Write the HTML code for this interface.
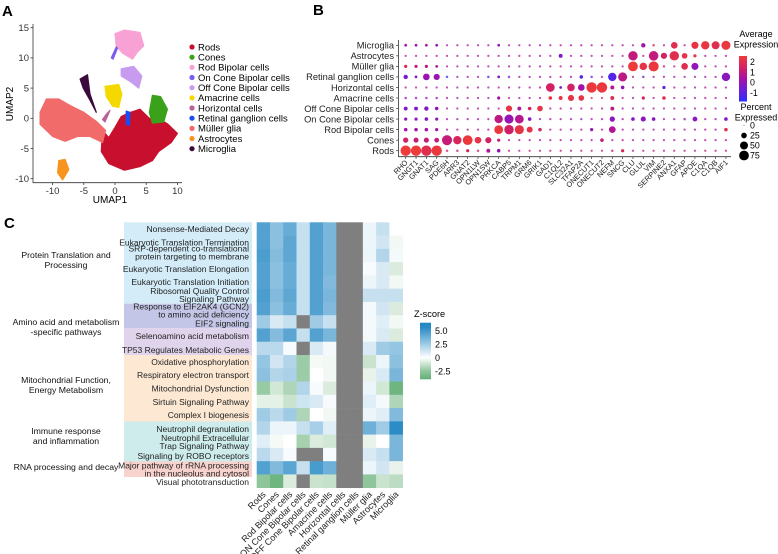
<!DOCTYPE html>
<html><head><meta charset="utf-8"><style>
html,body{margin:0;padding:0;background:#fff;}
svg{display:block;font-family:"Liberation Sans",Arial,sans-serif;}
</style></head><body>
<svg id="fig" width="778" height="554" viewBox="0 0 778 554" xmlns="http://www.w3.org/2000/svg">
<text x="2" y="16" font-size="15" font-weight="bold">A</text>
<text x="313" y="15" font-size="15" font-weight="bold">B</text>
<text x="4" y="228" font-size="15" font-weight="bold">C</text>
<g id="umap"></g>
<g id="dot"></g>
<g id="heat"></g>
</svg>
<script>
const NS='http://www.w3.org/2000/svg';
function mk(parent,tag,attrs,txt){const e=document.createElementNS(NS,tag);for(const k in attrs)e.setAttribute(k,attrs[k]);if(txt!==undefined)e.textContent=txt;parent.appendChild(e);return e;}
function lerpHex(a,b,t){const pa=[1,3,5].map(i=>parseInt(a.substr(i,2),16)),pb=[1,3,5].map(i=>parseInt(b.substr(i,2),16));return 'rgb('+pa.map((v,i)=>Math.round(v+(pb[i]-v)*t)).join(',')+')';}
function ramp(stops,v){if(v<=stops[0][0])return stops[0][1];for(let i=1;i<stops.length;i++){if(v<=stops[i][0]){const t=(v-stops[i-1][0])/(stops[i][0]-stops[i-1][0]);return lerpHex(stops[i-1][1],stops[i][1],t);}}return stops[stops.length-1][1];}

/* ---------- Panel A: UMAP ---------- */
const umapClusters=['Rods','Cones','Rod Bipolar cells','On Cone Bipolar cells','Off Cone Bipolar cells','Amacrine cells','Horizontal cells','Retinal ganglion cells','Müller glia','Astrocytes','Microglia'];
const umapColors=['#c8102e','#3aa11a','#f7a1d4','#7b5cf0','#c79bf0','#f5d800','#b8609a','#1a4df0','#f26b6b','#f7941d','#3b0a3d'];
const umapShapes=[
 [[-2,-2],[-1,-3.2],[0,-1.5],[1,0.3],[2.5,1],[4,1.5],[5.5,0],[7,0],[8.5,-1],[10,-2.5],[9,-4],[7,-5.5],[6,-7],[4,-8],[1.5,-8.6],[-1,-7.5],[-2.2,-5.5]],
 [[5.5,1],[6,3.8],[7.3,3.6],[8.4,1.5],[7.8,-0.6],[6,-0.8]],
 [[0,14],[1.5,14.6],[4,14.2],[4.6,12],[3.6,11],[2.8,9.8],[1.2,10.8],[0.2,12]],
 [[-0.6,10],[0.2,11.8],[0.4,11.6],[-0.3,9.8]],
 [[1,8.2],[3,8.6],[4.3,7],[3.8,5],[2.6,6],[1,7]],
 [[-1.6,5.3],[0.6,5.6],[1.1,4],[0.6,1.8],[-0.4,2],[-1.4,3.6]],
 [[-1.3,0.8],[-0.8,1.3],[-1.6,-0.6],[-2,-0.2]],
 [[1.8,1.2],[2.4,1],[2.3,-1.2],[1.8,-1]],
 [[-12,1],[-11,3.2],[-9,3.2],[-7,2],[-5,1],[-3,-0.5],[-1.5,-2],[-2,-4],[-4,-3],[-6,-3],[-8,-3.8],[-10,-3],[-12,-1]],
 [[-9,-7],[-8,-6.8],[-7.4,-8.5],[-8.4,-10.2],[-9.2,-9]],
 [[-5.6,6.5],[-4.4,7.2],[-4,4],[-3,1],[-4,3],[-5.1,5]]
];
const umapXTicks=[-10,-5,0,5,10];
const umapYTicks=[15,10,5,0,-5,-10];
(function(){
 const g=document.getElementById('umap');
 const ux=v=>115+6.24*v, uy=v=>118.3-6.04*v;
 umapShapes.forEach((s,i)=>{
  const p=mk(g,'polygon',{points:s.map(q=>ux(q[0]).toFixed(1)+','+uy(q[1]).toFixed(1)).join(' '),fill:umapColors[i],stroke:umapColors[i],'stroke-width':1.2,'stroke-linejoin':'round'});
  
  
 });
 const ax=mk(g,'path',{d:'M33,24V182.7H182',stroke:'#333',fill:'none','stroke-width':0.8});
 
 umapXTicks.forEach(t=>{mk(g,'line',{x1:ux(t),x2:ux(t),y1:182.7,y2:185,stroke:'#333','stroke-width':0.8});
  const e=mk(g,'text',{x:ux(t),y:194,'font-size':9.5,'text-anchor':'middle',fill:'#333'},t);
  });
 umapYTicks.forEach(t=>{mk(g,'line',{x1:30.5,x2:33,y1:uy(t),y2:uy(t),stroke:'#333','stroke-width':0.8});
  const e=mk(g,'text',{x:29,y:uy(t)+3.3,'font-size':9.5,'text-anchor':'end',fill:'#333'},t);
  });
 let e=mk(g,'text',{x:110,y:203,'font-size':10,'text-anchor':'middle'},'UMAP1');
 
 e=mk(g,'text',{x:13,y:104,'font-size':10,'text-anchor':'middle',transform:'rotate(-90 13 104)'},'UMAP2');
 
 umapClusters.forEach((c,i)=>{const y=47+10.17*i;
  const d=mk(g,'circle',{cx:192,cy:y,r:2.6,fill:umapColors[i]});
  
  const t=mk(g,'text',{x:198,y:y+3.3,'font-size':9.5},c);
  });
})();

/* ---------- Panel B: dot plot ---------- */
const dotGenes=['RHO','GNGT1','GNAT1','SAG','PDE6H','ARR3','GNAT2','OPN1LW','OPN1SW','PRKCA','CABP5','TRPM1','GRM6','GRIK1','GAD1','C1QL2','SLC32A1','TFAP2A','ONECUT1','ONECUT2','NEFM','SNCG','CLU','GLUL','VIM','SERPINE2','ANXA1','GFAP','APOE','C1QA','C1QB','AIF1'];
const dotCells=['Rods','Cones','Rod Bipolar cells','On Cone Bipolar cells','Off Cone Bipolar cells','Amacrine cells','Horizontal cells','Retinal ganglion cells','Müller glia','Astrocytes','Microglia'];
const dotPct=[
 [85,85,85,85,5,5,8,5,12,10,4,4,4,4,4,4,4,4,4,4,5,8,4,4,4,4,4,4,4,4,4,4],
 [22,20,20,18,80,55,75,35,30,8,4,4,4,4,4,4,4,4,4,10,4,4,4,4,4,4,4,4,4,4,4,4],
 [10,10,10,8,4,4,4,4,4,60,70,65,28,10,4,4,4,4,8,4,35,4,4,4,4,4,4,4,4,4,4,10],
 [8,8,10,8,4,4,4,4,4,55,65,60,10,4,4,4,4,4,4,4,22,4,10,20,10,4,4,5,18,4,4,10],
 [12,12,15,10,4,4,4,4,4,4,30,12,10,25,4,4,4,4,4,4,12,4,4,4,4,4,4,4,4,4,4,4],
 [5,5,5,5,4,4,4,4,4,8,4,4,4,4,10,12,30,25,4,4,12,4,4,8,4,10,4,4,4,4,4,4],
 [4,4,4,4,4,4,4,4,4,4,4,4,4,4,60,6,45,35,85,85,12,10,4,4,4,8,4,4,4,4,4,4],
 [15,6,35,30,5,4,4,4,5,6,5,4,4,4,4,4,4,10,5,4,55,65,4,5,4,4,4,4,4,4,4,55],
 [8,8,8,6,4,4,4,4,4,4,4,4,4,4,4,4,4,4,4,4,4,4,75,45,80,5,4,35,40,4,4,4],
 [4,4,4,4,4,4,4,4,4,4,4,4,4,4,4,12,4,4,4,4,4,4,70,4,72,30,70,25,8,4,4,4],
 [6,6,6,6,4,4,4,4,4,6,4,4,4,4,4,4,4,4,4,4,4,4,4,15,5,4,35,4,40,55,50,65]
];
const dotExp=[
 [2.3,2.3,1.8,2.2,1.2,1.0,1.5,1.0,0.6,0,0.8,0.8,0.8,0.8,0.8,0.8,0.8,0.8,0.8,0.8,1,1.5,0.8,0.8,0.8,0.8,0.8,0.8,0.8,0.8,0.8,0.8],
 [1.3,1.0,1.0,1.0,1.0,1.5,2.2,2.0,1.3,1,0.5,0.5,0.5,0.5,0.5,0.5,0.5,0.5,0.5,1,0.5,0.5,0.5,0.5,0.5,0.5,0.5,0.5,0.5,0.5,0.5,0.5],
 [0.3,0.3,0.3,0.3,0.5,0.5,0.5,0.5,0.5,2.2,1.2,2.0,2.0,1.5,0.5,0.5,0.5,0.5,0,0.5,0.6,0.5,0.5,0.5,0.5,0.5,0.5,0.5,0.5,0.5,0.5,1.8],
 [0,0,-0.2,0,0.3,0.3,0.3,0.3,0.3,0.8,0.1,0.7,-0.2,0.3,0.3,0.3,0.3,-0.5,0.3,0.3,-0.1,0.3,-0.2,-0.1,-0.2,0.3,0.3,0,-0.1,0.3,0.3,-0.2],
 [-0.2,-0.2,-0.2,0,0.5,0.5,0.5,0.5,0.5,0.5,2.0,0.5,1.5,2.0,0.5,0.5,0.5,0.5,0.5,0.5,0.8,0.5,0.5,0.5,0.5,0.5,0.5,0.5,0.5,0.5,0.5,0.5],
 [0,0,0,0,0.5,0.5,0.5,0.5,0.5,0.3,0.5,0.5,0.5,0.5,2.0,2.0,2.0,2.0,1.5,1.5,1.8,0.5,0.5,1.2,0.5,1.8,0.5,0.5,0.5,0.5,0.5,0.5],
 [0.5,0.5,0.5,0.5,0.5,0.5,0.5,0.5,0.5,0.5,0.5,0.5,0.5,0.5,1.3,-0.5,1.3,0.3,2.2,2.2,0.6,0,0.5,0.5,0.5,-0.9,0.5,0.5,0.5,0.5,0.5,0.5],
 [-0.4,-0.3,0.2,0.2,-1.5,0.3,0.3,0.3,-1.4,-0.2,-0.2,0.3,0.3,0.3,0.3,0.3,0.3,-1.0,-0.6,0.3,-1.0,0.8,0.3,-0.5,0.3,0.3,0.3,0.3,0.3,0.3,0.3,-0.1],
 [1.5,1.0,0.8,0.6,0.5,0.5,0.5,0.5,0.5,0.5,0.5,0.5,0.5,0.5,0.5,0.5,0.5,0.5,0.5,0.5,0.5,0.5,2.3,2.0,2.2,1.2,0.5,1.8,0,0.5,0.5,0.5],
 [0.5,0.5,0.5,0.5,0.5,0.5,0.5,0.5,0.5,0.5,0.5,0.5,0.5,0.5,0.5,-0.3,0.5,0.5,0.5,0.5,0.5,0.5,0.9,0.5,0.9,1.3,1.8,2.0,2.0,0.5,0.5,0.5],
 [0.3,0,0.5,0,0.5,0.5,0.5,0.5,0.5,0,0.5,0.5,0.5,0.5,0.5,0.5,0.5,0.5,0.5,0.5,0.5,0.5,0.5,0.3,1.2,0.5,1.8,0.5,2.0,2.1,1.8,2.2]
];
const dotExpTicks=[2,1,0,-1];
const dotPctTicks=[0,25,50,75];
(function(){
 const g=document.getElementById('dot');
 const stops=[[-1.6,'#2d2dff'],[-0.6,'#6a1fd8'],[0.3,'#a312aa'],[1.2,'#d01f68'],[2.3,'#ee3a3a']];
 const gx=i=>405.7+10.33*i, gy=r=>150.7-10.54*r;
 const rad=p=>Math.max(0.6,5.2*Math.sqrt(p/85));
 dotCells.forEach((c,r)=>{
  const t=mk(g,'text',{x:394,y:gy(r)+3.3,'font-size':9.3,'text-anchor':'end',fill:'#222'},c);
  
  mk(g,'line',{x1:396,x2:398.5,y1:gy(r),y2:gy(r),stroke:'#333','stroke-width':0.7});
  dotGenes.forEach((gn,i)=>{
   const p=dotPct[r][i],v=dotExp[r][i];
   const d=mk(g,'circle',{cx:gx(i),cy:gy(r),r:rad(p),fill:ramp(stops,v),'fill-opacity':p<6?0.75:1});
   
  });
 });
 const ax=mk(g,'path',{d:'M398.5,40V156.7H731',stroke:'#333',fill:'none','stroke-width':0.8});
 
 dotGenes.forEach((gn,i)=>{
  mk(g,'line',{x1:gx(i),x2:gx(i),y1:156.7,y2:159,stroke:'#333','stroke-width':0.7});
  const t=mk(g,'text',{x:gx(i)+2.5,y:163,'font-size':7.4,'text-anchor':'end',fill:'#222',transform:`rotate(-45 ${gx(i)+2.5} 163)`},gn);
  
 });
 let t=mk(g,'text',{x:756,y:37,'font-size':9,'text-anchor':'middle'},'Average');
 t=mk(g,'text',{x:756,y:47.5,'font-size':9,'text-anchor':'middle'},'Expression');
 const gr=mk(g,'defs',{});const lg=mk(gr,'linearGradient',{id:'expg',x1:0,y1:1,x2:0,y2:0});
 stops.forEach(s=>mk(lg,'stop',{offset:((s[0]+1.6)/3.9).toFixed(3),'stop-color':s[1]}));
 const cb=mk(g,'rect',{x:739,y:56,width:8,height:45.5,fill:'url(#expg)'});
 
 const ey=v=>82.5-10.4*v;
 dotExpTicks.forEach(v=>{const tt=mk(g,'text',{x:750,y:ey(v)+3.2,'font-size':8.8},v);
  });
 t=mk(g,'text',{x:756,y:110,'font-size':9,'text-anchor':'middle'},'Percent');
 t=mk(g,'text',{x:756,y:120.5,'font-size':9,'text-anchor':'middle'},'Expressed');
 dotPctTicks.forEach((p,k)=>{const y=125.5+10*k;
  const c=mk(g,'circle',{cx:744,cy:y,r:p===0?0.4:rad(p),fill:'#000'});
  
  const tt=mk(g,'text',{x:750,y:y+3.2,'font-size':8.8},p);
  });
})();

/* ---------- Panel C: heatmap ---------- */
const heatCols=['Rods','Cones','Rod Bipolar cells','ON Cone Bipolar cells','OFF Cone Bipolar cells','Amacrine cells','Horizontal cells','Retinal ganglion cells','Müller glia','Astrocytes','Microglia'];
const heatRows=['Nonsense-Mediated Decay','Eukaryotic Translation Termination','SRP-dependent co-translational|protein targeting to membrane','Eukaryotic Translation Elongation','Eukaryotic Translation Initiation','Ribosomal Quality Control|Signaling Pathway','Response to EIF2AK4 (GCN2)|to amino acid deficiency','EIF2 signaling','Selenoamino acid metabolism','TP53 Regulates Metabolic Genes','Oxidative phosphorylation','Respiratory electron transport','Mitochondrial Dysfunction','Sirtuin Signaling Pathway','Complex I biogenesis','Neutrophil degranulation','Neutrophil Extracellular|Trap Signaling Pathway','Signaling by ROBO receptors','Major pathway of rRNA processing|in the nucleolus and cytosol','Visual phototransduction'];
const heatVals=[
 [4.5,3,4,1.5,4.5,3.5,null,null,0.5,1.5,0],
 [4.5,3,4.2,1.5,4.5,3.5,null,null,0.5,1.2,-0.3],
 [4.7,3.2,4.2,1.5,4.5,3.5,null,null,0.5,2,0.3],
 [4.5,3,4,1.5,4.5,3.5,null,null,0.2,1,-0.8],
 [4.5,3,4,1.5,4.5,3.3,null,null,0.5,1,-0.3],
 [4.7,3.3,4.2,1.5,4.5,3.5,null,null,1.5,1.5,1.5],
 [4.5,3,4,1.5,4.5,3.3,null,null,0.3,1.2,-0.8],
 [2.5,1,1.5,null,2.5,1.5,null,null,0.3,0.8,-0.3],
 [4.5,3.2,4.3,1.5,4.5,3.5,null,null,0.3,1,-0.8],
 [1.8,1.8,0.2,null,1,0.3,null,null,1,2.5,2.8],
 [2.8,1.2,2,-2.2,-0.2,-0.3,null,null,-1.2,0.5,3],
 [3,2,2.2,-2.2,0,-0.3,null,null,-0.5,1,3.5],
 [-2.3,-1,-1.8,2,0.2,-0.8,null,null,0.5,-1,-3.2],
 [-0.6,-0.6,-1.2,1.3,1,0.2,null,null,0.8,0.3,-1.8],
 [2.5,1.8,2.5,-1.8,0,-0.3,null,null,0.5,0.8,3.3],
 [2,0.5,0.5,1.5,2.3,0.8,null,null,3.8,2.5,5.5],
 [0.8,-0.2,0,-2,-0.8,-1,null,null,-0.5,0,3.5],
 [1.8,1,0.2,null,null,0.2,null,null,1,1.5,3.5],
 [4.5,3.3,4.3,1.5,4.8,3.8,null,null,0.5,1.2,-0.5],
 [-2.5,-3.2,-0.8,null,-1.2,-1.3,null,null,-2.5,-1.2,-1.5]
];
const heatGroups=['Protein Translation and|Processing','Amino acid and metabolism|-specific pathways','Mitochondrial Function,|Energy Metabolism','Immune response|and inflammation','RNA processing and decay'];
const heatZTicks=[5.0,2.5,0,-2.5];
(function(){
 const g=document.getElementById('heat');
 const x0=256.7,y0=222.3,cw=13.27,ch=13.27;
 const hstops=[[-3.5,'#62ae73'],[0,'#ffffff'],[5.8,'#2186c2']];
 const labelY=[229,242.3,252.5,268.7,282,295,310.3,323.5,336,350,361.7,374.7,388.3,402,415,428.7,441.7,456,469.5,482];
 const bands=[[222.3,303.7,'#d3ecf8'],[303.7,328.3,'#c3c6e6'],[328.3,355,'#e0d3ec'],[355,421.5,'#fde9d3'],[421.5,461.5,'#cdeceb'],[461.5,477,'#f8d2cd']];
 bands.forEach(b=>{const r=mk(g,'rect',{x:124,y:b[0],width:128,height:b[1]-b[0],fill:b[2]});
  });
 heatRows.forEach((lab,r)=>{
  const cy=labelY[r];const parts=lab.split('|');
  parts.forEach((p,k)=>{const t=mk(g,'text',{x:249,y:cy+3.2+(k-(parts.length-1)/2)*8,'font-size':8.5,'text-anchor':'end',fill:'#222'},p);
   });
  heatVals[r].forEach((v,c)=>{
   const cell=mk(g,'rect',{x:x0+cw*c,y:y0+ch*r,width:cw+0.3,height:ch+0.3,fill:v===null?'#7f7f7f':ramp(hstops,v)});
   
  });
 });
 heatCols.forEach((c,i)=>{const x=x0+cw*(i+0.5)+3;
  const t=mk(g,'text',{x:x,y:495,'font-size':9,'text-anchor':'end',fill:'#222',transform:`rotate(-45 ${x} 495)`},c);
  });
 const gy=[263,330,388,439,470];
 heatGroups.forEach((lab,i)=>{const parts=lab.split('|');
  parts.forEach((p,k)=>{const t=mk(g,'text',{x:66,y:gy[i]+(k-(parts.length-1)/2)*10,'font-size':8.7,'text-anchor':'middle',fill:'#111'},p);
   });});
 let t=mk(g,'text',{x:414,y:317,'font-size':9.2},'Z-score');
 const zy=v=>357.7-5.43*v;
 const zlo=-(379.3-357.7)/5.43, zhi=(357.7-322.7)/5.43;
 const df=mk(g,'defs',{});const lg=mk(df,'linearGradient',{id:'zg',x1:0,y1:1,x2:0,y2:0});
 [zlo,-2.5,-1,0,1,2.5,4,5.5,zhi].forEach(v=>{mk(lg,'stop',{offset:((v-zlo)/(zhi-zlo)).toFixed(3),'stop-color':ramp(hstops,v)});});
 const cb=mk(g,'rect',{x:420,y:322.7,width:11,height:56.6,fill:'url(#zg)'});
 
 heatZTicks.forEach(v=>{const tt=mk(g,'text',{x:435,y:zy(v)+3.2,'font-size':9},v===0?'0':v.toFixed(1));
  });
})();
</script>
</body></html>
